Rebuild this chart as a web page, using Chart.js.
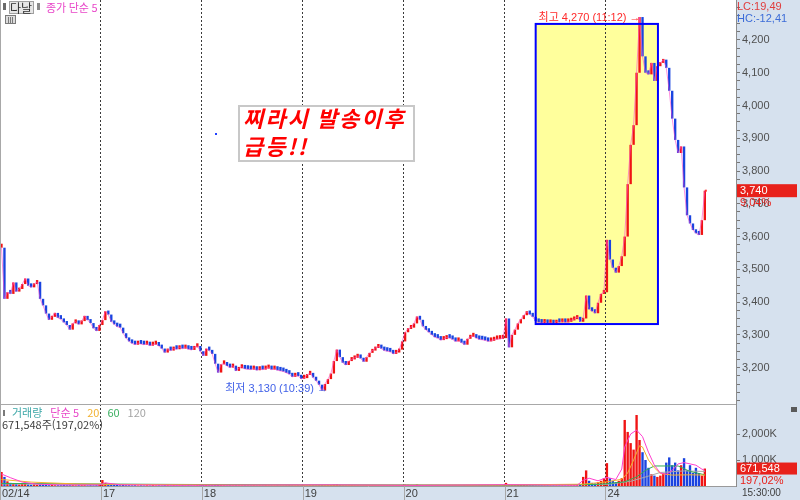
<!DOCTYPE html>
<html lang="ko">
<head>
<meta charset="utf-8">
<title>다날 분봉</title>
<script src="https://cdn.jsdelivr.net/npm/chart.js@4.4.1/dist/chart.umd.min.js"></script>
<style>
  html, body { margin: 0; padding: 0; background: #fff; }
  #wrap { position: relative; width: 800px; height: 500px; }
</style>
</head>
<body>
<div id="wrap"><canvas id="chart" width="800" height="500"></canvas></div>
<script>
// day labels on the time axis
const dayLabels = ["02/14", "17", "18", "19", "20", "21", "24"];
const perDay = 34;      // columns per trading day
const emptySlots = 10;  // blank space right of the last bar

// close per column (won)
const close14 = [3566, 3410, 3430, 3425, 3460, 3432, 3440, 3455, 3472, 3450, 3445, 3455, 3462, 3410, 3390, 3365, 3346,
  3355, 3367, 3352, 3348, 3338, 3330, 3316, 3335, 3340, 3332, 3342, 3358, 3345, 3336, 3320, 3312, 3330];
const close17 = [3345, 3372, 3362, 3340, 3332, 3325, 3322, 3305, 3290, 3280, 3274, 3270, 3275, 3272, 3270, 3273, 3267,
  3270, 3272, 3266, 3258, 3246, 3255, 3252, 3258, 3256, 3262, 3258, 3262, 3256, 3254, 3262, 3266, 3250];
const close18 = [3236, 3258, 3252, 3242, 3212, 3185, 3210, 3212, 3205, 3200, 3206, 3190, 3198, 3203, 3196, 3195, 3194,
  3198, 3192, 3196, 3194, 3197, 3200, 3194, 3196, 3192, 3190, 3188, 3184, 3180, 3172, 3176, 3174, 3166];
const close19 = [3168, 3178, 3184, 3170, 3160, 3148, 3130, 3150, 3165, 3182, 3220, 3255, 3232, 3215, 3208, 3220, 3225,
  3230, 3235, 3228, 3218, 3232, 3245, 3252, 3260, 3264, 3258, 3252, 3250, 3248, 3242, 3246, 3255, 3280];
const close20 = [3308, 3318, 3322, 3335, 3356, 3346, 3326, 3315, 3308, 3300, 3293, 3290, 3284, 3287, 3292, 3290, 3286,
  3280, 3282, 3276, 3270, 3288, 3294, 3296, 3290, 3286, 3285, 3283, 3280, 3282, 3286, 3287, 3288, 3290];
const close21 = [3350, 3262, 3300, 3316, 3335, 3348, 3360, 3370, 3362, 3355, 3342, 3338, 3336, 3340, 3335, 3338, 3334,
  3340, 3338, 3342, 3338, 3340, 3344, 3348, 3355, 3340, 3350, 3420, 3378, 3372, 3366, 3398, 3425, 3430];
const close24 = [3590, 3530, 3505, 3490, 3510, 3540, 3600, 3760, 3880, 3940, 4100, 4270, 4150, 4100, 4095, 4130, 4075,
  4120, 4130, 4140, 4115, 4045, 3960, 3895, 3855, 3875, 3750, 3665, 3640, 3620, 3610, 3605, 3650, 3740];

// volume per column (thousand shares)
const vol14 = [540, 350, 180, 120, 90, 70, 60, 110, 80, 60, 50, 60, 40, 50, 40, 40, 30, 40, 30, 30, 30, 40, 30, 30, 30,
  25, 30, 30, 30, 25, 30, 25, 30, 40];
const vol17 = [230, 120, 80, 60, 50, 40, 30, 40, 30, 30, 25, 30, 20, 25, 20, 25, 20, 30, 20, 25, 20, 30, 25, 20, 25,
  20, 20, 25, 20, 25, 20, 20, 25, 30];
const vol18 = [60, 40, 30, 30, 40, 50, 30, 25, 20, 25, 20, 25, 20, 20, 25, 20, 20, 25, 20, 20, 20, 25, 20, 20, 20,
  25, 20, 20, 25, 30, 25, 20, 25, 30];
const vol19 = [30, 25, 25, 30, 25, 30, 40, 30, 30, 35, 60, 70, 40, 30, 25, 25, 30, 25, 25, 20, 25, 30, 30, 25, 30,
  25, 20, 20, 20, 25, 20, 20, 25, 40];
const vol20 = [60, 50, 40, 40, 60, 40, 30, 25, 25, 20, 20, 20, 20, 20, 20, 20, 20, 20, 20, 20, 25, 20, 20, 20, 20,
  20, 20, 20, 20, 20, 20, 20, 20, 25];
const vol21 = [120, 60, 40, 40, 40, 40, 40, 30, 25, 25, 20, 20, 20, 20, 20, 20, 20, 20, 20, 20, 20, 20, 25, 25, 30,
  60, 350, 600, 200, 120, 100, 150, 200, 300];
const vol24 = [880, 300, 200, 150, 200, 300, 2540, 2080, 1650, 1400, 2730, 1770, 1300, 1000, 700, 450, 400, 350, 400,
  500, 900, 1100, 800, 900, 600, 800, 1070, 600, 800, 500, 700, 500, 400, 671.548];

// volume moving averages: [column, thousand shares]
const ma5Vol = [[0, 460], [3, 320], [7, 150], [12, 70], [20, 40], [33, 40], [35, 120], [40, 45], [60, 28], [110, 45],
  [140, 25], [170, 50], [194, 30], [196, 220], [198, 300], [201, 200], [204, 330], [207, 250], [209, 650], [210, 1500],
  [212, 2000], [214, 2150], [216, 1900], [218, 1300], [220, 800], [222, 500], [224, 450], [226, 600], [228, 850],
  [230, 900], [232, 850], [234, 800], [236, 650], [237, 600]];
const ma20Vol = [[0, 250], [10, 150], [25, 80], [40, 60], [80, 35], [136, 30], [170, 40], [196, 70], [204, 160],
  [209, 260], [211, 500], [213, 1000], [215, 1550], [216, 1500], [218, 1000], [220, 700], [222, 480], [226, 420],
  [232, 430], [237, 420]];
const ma60Vol = [[0, 100], [40, 70], [100, 40], [170, 30], [200, 60], [204, 90], [210, 160], [214, 350], [217, 600],
  [220, 770], [228, 770], [232, 560], [237, 430]];
const ma120Vol = [[0, 80], [68, 50], [170, 35], [204, 60], [212, 180], [218, 380], [222, 520], [230, 580], [237, 560]];

const closes = [].concat(close14, close17, close18, close19, close20, close21, close24);
const volumes = [].concat(vol14, vol17, vol18, vol19, vol20, vol21, vol24);

const FONT = "'Liberation Sans', 'Noto Sans CJK KR', sans-serif";
const KFONT = "'Noto Sans CJK KR', sans-serif";
const UP = "#f01414", DOWN = "#1a44e0";
const PANEL = "#d6e1ee";

function dirColor(i){ return i > 0 && closes[i] < closes[i-1] ? DOWN : UP; }
function fmt(n){ return Math.round(n).toLocaleString("en-US"); }
function pct(n){ return n.toFixed(2).replace(".", ","); }

const hi = Math.max(...closes), lo = Math.min(...closes);
const hiIdx = closes.indexOf(hi), loIdx = closes.indexOf(lo);
const last = closes[closes.length-1];
const prevClose = close21[close21.length-1];

// highlighted range (column / price)
const boxFrom = 180, boxTo = 221.2, boxTop = 4249, boxBottom = 3333;

const decor = {
  id: "decor",
  beforeDraw(chart){
    const {ctx, chartArea: a, width, height} = chart;
    const xs = chart.scales.x, ys = chart.scales.y;
    ctx.save();
    ctx.fillStyle = "#fff"; ctx.fillRect(0, 0, width, height);
    ctx.fillStyle = PANEL;
    ctx.fillRect(a.right, 0, width - a.right, height);
    ctx.fillRect(0, a.bottom, a.right, height - a.bottom);
    // yellow range
    const x1 = xs.getPixelForValue(boxFrom), x2 = xs.getPixelForValue(boxTo);
    const y1 = ys.getPixelForValue(boxTop), y2 = ys.getPixelForValue(boxBottom);
    ctx.fillStyle = "#ffff9c";
    ctx.fillRect(x1, y1, x2 - x1, y2 - y1);
    ctx.restore();
  },
  afterDraw(chart){
    const {ctx, chartArea: a, width, height} = chart;
    const xs = chart.scales.x, ys = chart.scales.y, vs = chart.scales.v;
    ctx.save();

    // range border
    const x1 = xs.getPixelForValue(boxFrom), x2 = xs.getPixelForValue(boxTo);
    const y1 = ys.getPixelForValue(boxTop), y2 = ys.getPixelForValue(boxBottom);
    ctx.strokeStyle = "#0000ff"; ctx.lineWidth = 2;
    ctx.strokeRect(x1, y1, x2 - x1, y2 - y1);

    // pane separators
    ctx.strokeStyle = "#a8a8a8"; ctx.lineWidth = 1;
    ctx.beginPath();
    ctx.moveTo(0, Math.round(ys.bottom) + 0.5); ctx.lineTo(a.right, Math.round(ys.bottom) + 0.5);
    ctx.moveTo(0.5, 0); ctx.lineTo(0.5, height);
    dayLabels.forEach((_, d) => {
      if (!d) return;
      const px = Math.round(xs.getPixelForValue(d*perDay - 0.5)) + 0.5;
      ctx.moveTo(px, a.bottom); ctx.lineTo(px, height);
    });
    ctx.stroke();

    // high / low notes
    ctx.textBaseline = "middle"; ctx.textAlign = "right";
    ctx.font = "11px " + FONT;
    ctx.fillStyle = "#ff2a2a";
    ctx.fillText("최고 " + fmt(hi) + " (11:12) →", xs.getPixelForValue(hiIdx) + 1, ys.getPixelForValue(hi) + 1);
    ctx.fillStyle = "#4262e8";
    ctx.fillText("최저 " + fmt(lo) + " (10:39) →", xs.getPixelForValue(loIdx) + 6, ys.getPixelForValue(lo) - 2);

    // stray marks
    ctx.fillStyle = "#2040ff"; ctx.fillRect(215, 133, 2, 2);
    ctx.fillStyle = "#ff3030"; ctx.fillRect(xs.getPixelForValue(closes.length - 1), ys.getPixelForValue(last) - 1, 2, 2);

    // memo box
    ctx.fillStyle = "#fff"; ctx.fillRect(238, 105, 177, 57);
    ctx.strokeStyle = "#c8c8c8"; ctx.lineWidth = 2; ctx.strokeRect(239, 106, 175, 55);
    ctx.textAlign = "left";
    ctx.fillStyle = "#ff0000";
    ctx.font = "italic bold 22px " + KFONT;
    ctx.letterSpacing = "2px";
    ctx.fillText("찌라시 발송이후", 243, 119);
    ctx.fillText("급등!!", 243, 147);
    ctx.letterSpacing = "0px";

    // top-left title row
    ctx.fillStyle = "#6a6a6a"; ctx.fillRect(3, 3, 3, 7);
    ctx.fillStyle = "#e6e6e6"; ctx.fillRect(9, 1, 25, 13);
    ctx.strokeStyle = "#a0a0a0"; ctx.lineWidth = 1; ctx.strokeRect(9.5, 1.5, 24, 12);
    ctx.font = "12px " + KFONT; ctx.fillStyle = "#303030";
    ctx.fillText("다날", 10, 8);
    ctx.fillStyle = "#8a8a8a"; ctx.fillRect(37, 3, 3, 7);
    ctx.fillStyle = "#e845c8"; ctx.font = "11px " + KFONT;
    ctx.fillText("종가 단순 5", 46, 8);
    ctx.fillStyle = "#dcdcdc"; ctx.fillRect(5, 15, 11, 9);
    ctx.strokeStyle = "#7a7a7a"; ctx.strokeRect(5.5, 15.5, 10, 8);
    ctx.beginPath();
    ctx.moveTo(8.5, 17); ctx.lineTo(8.5, 23); ctx.moveTo(10.5, 17); ctx.lineTo(10.5, 23); ctx.moveTo(12.5, 17); ctx.lineTo(12.5, 23);
    ctx.stroke();

    // volume legend
    const vy = Math.round(ys.bottom) + 9;
    ctx.fillStyle = "#7a7a7a"; ctx.fillRect(3, vy - 3, 2, 6);
    let lx = 12;
    [["거래량", "#3ea8a8"], ["단순 5", "#e845c8"], ["20", "#f2b232"], ["60", "#3cb062"], ["120", "#a4a4a4"]].forEach(([t, c]) => {
      ctx.fillStyle = c; ctx.fillText(t, lx, vy);
      lx += ctx.measureText(t).width + 8;
    });
    ctx.fillStyle = "#404040";
    ctx.fillText(fmt(volumes[volumes.length-1]*1000) + "주(197,02%)", 2, vy + 12);

    // right axis notes
    ctx.font = "11px " + FONT;
    ctx.fillStyle = "#e03c3c"; ctx.fillText("LC:" + pct((last/lo - 1)*100), 737, 7);
    ctx.fillStyle = "#3c6cd8"; ctx.fillText("HC:" + pct((last/hi - 1)*100), 737, 19);

    const py = ys.getPixelForValue(last);
    ctx.fillStyle = "#e8211b"; ctx.fillRect(737, py - 6.5, 60, 13);
    ctx.fillStyle = "#fff"; ctx.fillText(fmt(last), 740, py);
    ctx.fillStyle = "#e8211b"; ctx.fillText(pct((last/prevClose - 1)*100) + "%", 740, py + 12);

    const vLast = volumes[volumes.length-1]*1000;
    const vp = vs.getPixelForValue(vLast);
    ctx.fillStyle = "#e8211b"; ctx.fillRect(737, vp - 6, 60, 12);
    ctx.fillStyle = "#fff"; ctx.fillText(fmt(vLast), 740, vp);
    ctx.fillStyle = "#e8211b"; ctx.fillText("197,02%", 740, vp + 12);

    ctx.fillStyle = "#5a5a5a"; ctx.fillRect(791, Math.round(ys.bottom) + 3, 6, 5);
    ctx.fillStyle = "#404040"; ctx.font = "10px " + FONT;
    ctx.fillText("15:30:00", 742, a.bottom + 7);
    ctx.restore();
  }
};

const tickFont = {size: 11, family: FONT};
const maLine = (pts, color) => ({
  type: "line", yAxisID: "v", data: pts.map(([x, v]) => ({x, y: v*1000})),
  borderColor: color, borderWidth: 1, pointRadius: 0, tension: 0, order: 0
});

new Chart(document.getElementById("chart"), {
  data: {
    datasets: [
      {type: "line", label: "종가 단순 5", yAxisID: "y",
        data: closes.map((c, i) => ({x: i, y: c})),
        borderColor: "rgba(255,70,200,0.6)", borderWidth: 1, pointRadius: 0, tension: 0, order: 0},
      {type: "bar", label: "다날", yAxisID: "y",
        data: closes.map((c, i) => ({x: i, y: [i ? closes[i-1] : c, c]})),
        backgroundColor: c => dirColor(c.dataIndex),
        grouped: false, barPercentage: 0.8, categoryPercentage: 1, minBarLength: 4, order: 1},
      {type: "bar", label: "거래량", yAxisID: "v",
        data: volumes.map((v, i) => ({x: i, y: v*1000})),
        backgroundColor: c => dirColor(c.dataIndex),
        grouped: false, barPercentage: 0.8, categoryPercentage: 1, order: 1},
      maLine(ma5Vol, "#ff3fd0"),
      maLine(ma20Vol, "#f4b02a"),
      maLine(ma60Vol, "#2fae55"),
      maLine(ma120Vol, "#a8a8a8")
    ]
  },
  options: {
    responsive: false, animation: false, devicePixelRatio: 1, events: [],
    layout: {padding: 0},
    plugins: {legend: {display: false}, tooltip: {enabled: false}},
    scales: {
      x: {
        type: "linear", offset: false,
        min: -0.5, max: perDay*dayLabels.length + emptySlots - 0.5,
        afterBuildTicks: s => { s.ticks = dayLabels.map((_, d) => ({value: d*perDay - 0.5})); },
        afterFit: s => { s.height = 14; s.paddingLeft = 0; s.paddingRight = 0; },
        ticks: {callback: (v, i) => dayLabels[i], align: "start", labelOffset: 2, padding: 1,
          maxRotation: 0, autoSkip: false, color: "#404040", font: tickFont},
        grid: {offset: false, color: c => c.index === 0 ? "rgba(0,0,0,0)" : "#3a3a3a", drawTicks: false},
        border: {color: "#9a9a9a", dash: [2, 2]}
      },
      y: {
        type: "linear", position: "right", stack: "pane", stackWeight: 404,
        min: 3089, max: 4322,
        afterBuildTicks: s => { const t = []; for (let v = 3100; v <= 4300; v += 25) t.push({value: v}); s.ticks = t; },
        afterFit: s => { s.width = 64; s.paddingTop = 0; s.paddingBottom = 0; },
        ticks: {callback: v => (v % 100 === 0 && v >= 3200 && v <= 4200) ? fmt(v) : "",
          autoSkip: false, padding: 2, color: "#505050", font: tickFont},
        grid: {drawOnChartArea: false, tickLength: 4, tickColor: "#777"},
        border: {color: "#8c8c8c"}
      },
      v: {
        type: "linear", position: "right", stack: "pane", stackWeight: 82,
        min: 0, max: 3154000,
        afterBuildTicks: s => { s.ticks = [{value: 1000000}, {value: 2000000}]; },
        afterFit: s => { s.width = 64; s.paddingTop = 0; s.paddingBottom = 0; },
        ticks: {callback: v => fmt(v/1000) + "K", autoSkip: false, padding: 2, color: "#505050", font: tickFont},
        grid: {drawOnChartArea: false, tickLength: 4, tickColor: "#777"},
        border: {color: "#8c8c8c"}
      }
    }
  },
  plugins: [decor]
});
</script>
</body>
</html>
